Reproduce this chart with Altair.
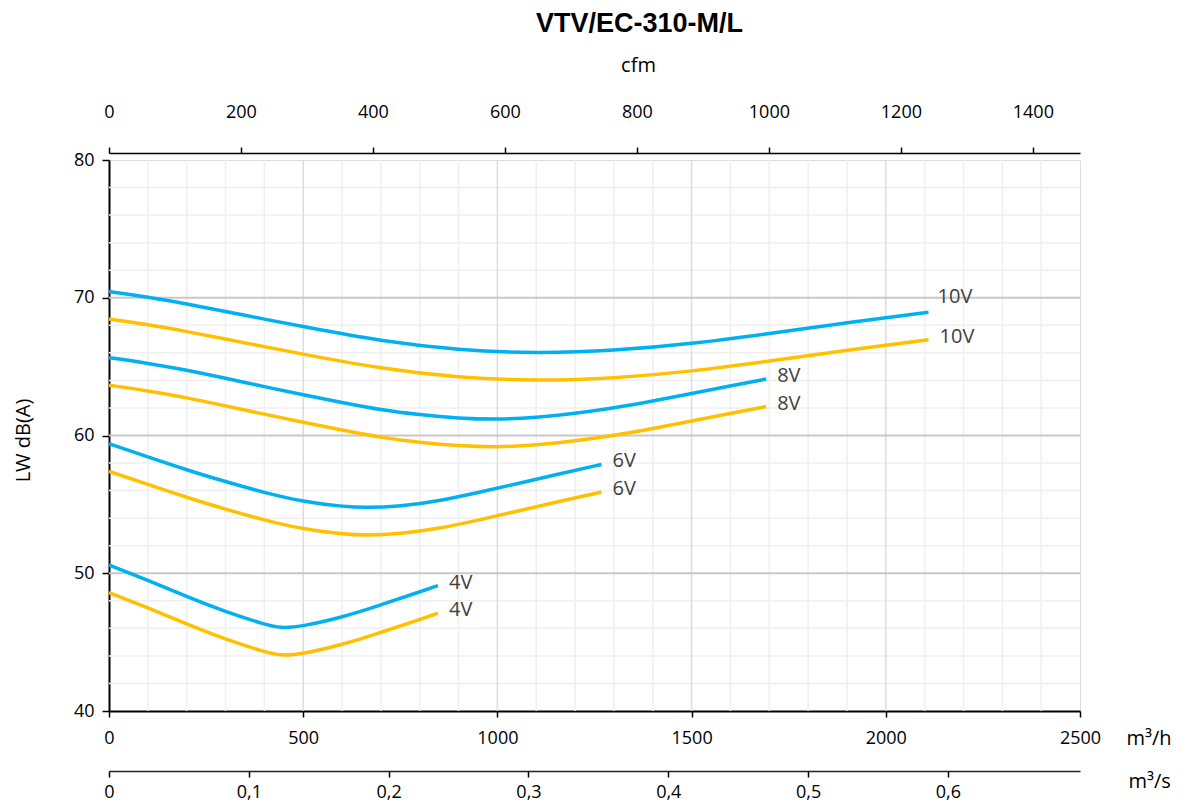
import altair as alt
import pandas as pd

# ---------------- data ----------------
Q_10 = [0, 100, 200, 300, 400, 500, 700, 900, 1100, 1300, 1500, 1700, 1900, 2110]
blue_10 = [70.45, 70.05, 69.55, 69.0, 68.45, 67.9, 66.85, 66.2, 65.95, 66.15, 66.65, 67.4, 68.2, 68.95]
yellow_10 = [68.45, 68.05, 67.55, 67.0, 66.45, 65.9, 64.85, 64.2, 63.95, 64.15, 64.65, 65.4, 66.2, 66.95]

Q_8 = [0, 100, 200, 300, 400, 500, 600, 700, 800, 900, 1000, 1100, 1200, 1300, 1400, 1500, 1600, 1692]
blue_8 = [65.65, 65.25, 64.75, 64.15, 63.55, 62.95, 62.4, 61.85, 61.5, 61.25, 61.15, 61.3, 61.6, 62.0, 62.5, 63.05, 63.6, 64.1]
yellow_8 = [63.65, 63.25, 62.75, 62.15, 61.55, 60.95, 60.4, 59.85, 59.5, 59.25, 59.15, 59.3, 59.6, 60.0, 60.5, 61.05, 61.6, 62.1]

Q_6 = [0, 100, 200, 300, 400, 500, 600, 660, 750, 850, 950, 1050, 1150, 1268]
blue_6 = [59.4, 58.45, 57.5, 56.65, 55.85, 55.2, 54.85, 54.75, 54.85, 55.25, 55.85, 56.5, 57.15, 57.9]
yellow_6 = [57.4, 56.45, 55.5, 54.65, 53.85, 53.2, 52.85, 52.75, 52.85, 53.25, 53.85, 54.5, 55.15, 55.9]

Q_4 = [0, 100, 200, 300, 400, 440, 500, 600, 700, 800, 847]
blue_4 = [50.6, 49.5, 48.3, 47.2, 46.3, 46.0, 46.15, 46.8, 47.7, 48.65, 49.1]
yellow_4 = [48.6, 47.5, 46.3, 45.2, 44.3, 44.0, 44.15, 44.8, 45.7, 46.65, 47.1]

curve_names = ["10V", "10V", "8V", "8V", "6V", "6V", "4V", "4V"]
curve_kinds = ["blue", "yellow", "blue", "yellow", "blue", "yellow", "blue", "yellow"]
curve_q = [Q_10, Q_10, Q_8, Q_8, Q_6, Q_6, Q_4, Q_4]
curve_db = [blue_10, yellow_10, blue_8, yellow_8, blue_6, yellow_6, blue_4, yellow_4]

x_ticks_m3h = [0, 500, 1000, 1500, 2000, 2500]
x_ticks_cfm = [0, 200, 400, 600, 800, 1000, 1200, 1400]
x_ticks_m3s = [0, 0.1, 0.2, 0.3, 0.4, 0.5, 0.6]
y_ticks = [40, 50, 60, 70, 80]

M3H_PER_CFM = 1.699
Q_MAX = 2500

# ---------------- tables ----------------
rows = []
for name, kind, qs, dbs in zip(curve_names, curve_kinds, curve_q, curve_db):
    for q, d in zip(qs, dbs):
        rows.append({"series": f"{name} {kind}", "volt": name, "kind": kind, "Q": q, "dB": d})
df = pd.DataFrame(rows)
labels_df = df.groupby("series", sort=False).tail(1).reset_index(drop=True)

minor_x = pd.DataFrame({"Q": [q for q in range(100, Q_MAX, 100) if q % 500]})
major_x = pd.DataFrame({"Q": [q for q in range(500, Q_MAX, 500)]})
minor_y = pd.DataFrame({"dB": [v for v in range(42, 80, 2) if v % 10]})
major_y = pd.DataFrame({"dB": [50, 60, 70]})

W, H = 971, 551
FONT = "Open Sans"

x_scale = alt.Scale(domain=[0, Q_MAX], nice=False, zero=False)
y_scale = alt.Scale(domain=[40, 80], nice=False, zero=False)

x_axis = alt.Axis(
    orient="bottom", values=x_ticks_m3h, format="d", grid=False,
    tickSize=6, tickColor="black", tickWidth=1.5,
    domainColor="black", domainWidth=2,
    labelFont=FONT, labelFontSize=18, labelColor="black", labelPadding=12, labelFlush=False,
    title="m³/h", titleFont=FONT, titleFontSize=20, titleFontWeight="normal", titleColor="black",
    titleAngle=0, titleAlign="left", titleBaseline="middle", titleX=1017, titleY=27,
)
y_axis = alt.Axis(
    orient="left", values=y_ticks, format="d", grid=False,
    tickSize=7, tickColor="black", tickWidth=1.5,
    domainColor="black", domainWidth=2,
    labelFont=FONT, labelFontSize=18, labelColor="black", labelPadding=8,
    title="LW dB(A)", titleFont=FONT, titleFontSize=20, titleFontWeight="normal", titleColor="black",
    titleAngle=-90, titleAlign="center", titleBaseline="middle", titleX=-86, titleY=280,
)

X = alt.X("Q:Q", scale=x_scale, axis=x_axis)
Y = alt.Y("dB:Q", scale=y_scale, axis=y_axis)

grid_minor_v = alt.Chart(minor_x).mark_rule(color="#efefef", strokeWidth=1.5).encode(x=X)
grid_major_v = alt.Chart(major_x).mark_rule(color="#dedbdb", strokeWidth=1.5).encode(x=X)
grid_minor_h = alt.Chart(minor_y).mark_rule(color="#efefef", strokeWidth=1.5).encode(y=Y)
grid_major_h = alt.Chart(major_y).mark_rule(color="#c8c8c8", strokeWidth=2).encode(y=Y)

lines = alt.Chart(df).mark_line(strokeWidth=3.5, interpolate="basis").encode(
    x=X, y=Y,
    color=alt.Color("kind:N", scale=alt.Scale(domain=["blue", "yellow"], range=["#00B0F0", "#FFC000"]), legend=None),
    detail="series:N",
)

labels_main = alt.Chart(labels_df).mark_text(
    align="left", baseline="middle", dx=11, dy=-3, font=FONT, fontSize=20, color="#404040"
).encode(x=X, y=Y, text="volt:N").transform_filter("datum.series != '10V blue'")
labels_top = alt.Chart(labels_df).mark_text(
    align="left", baseline="middle", dx=9, dy=-15, font=FONT, fontSize=20, color="#404040"
).encode(x=X, y=Y, text="volt:N").transform_filter("datum.series == '10V blue'")

main = alt.layer(grid_minor_v, grid_minor_h, grid_major_v, grid_major_h, lines, labels_main, labels_top)

cfm_layer = alt.Chart(pd.DataFrame({"cfm": [0, Q_MAX / M3H_PER_CFM]})).mark_point(opacity=0).encode(
    x=alt.X("cfm:Q", scale=alt.Scale(domain=[0, Q_MAX / M3H_PER_CFM], nice=False, zero=False),
            axis=alt.Axis(orient="top", offset=7, values=x_ticks_cfm, format="d", grid=False,
                          tickSize=6, tickColor="black", tickWidth=1.5,
                          domainColor="black", domainWidth=1.5,
                          labelFont=FONT, labelFontSize=18, labelColor="black", labelPadding=26,
                          labelFlush=False,
                          title="cfm", titleFont=FONT, titleFontSize=20, titleFontWeight="normal",
                          titleColor="black", titleAngle=0, titleAlign="center", titleBaseline="middle",
                          titleX=529, titleY=-88))
)

m3s_layer = alt.Chart(pd.DataFrame({"m3s": [0, Q_MAX / 3600]})).mark_point(opacity=0).encode(
    x=alt.X("m3s:Q", scale=alt.Scale(domain=[0, Q_MAX / 3600], nice=False, zero=False),
            axis=alt.Axis(orient="bottom", offset=60, values=x_ticks_m3s, grid=False,
                          labelExpr="datum.value == 0 ? '0' : replace(format(datum.value, '.1f'), '.', ',')",
                          tickSize=6, tickColor="black", tickWidth=1.5,
                          domainColor="#222222", domainWidth=1.5,
                          labelFont=FONT, labelFontSize=18, labelColor="black", labelPadding=6,
                          labelFlush=False,
                          title="m³/s", titleFont=FONT, titleFontSize=20, titleFontWeight="normal",
                          titleColor="black", titleAngle=0, titleAlign="left", titleBaseline="middle",
                          titleX=1019, titleY=10))
)

chart = alt.layer(main, cfm_layer, m3s_layer).resolve_scale(x="independent").properties(
    width=W, height=H,
    autosize=alt.AutoSizeParams(type="none"),
    padding={"left": 101, "top": 152, "right": 100, "bottom": 92},
    title=alt.TitleParams("VTV/EC-310-M/L", font="Liberation Sans", fontSize=27, fontWeight="bold",
                          color="black", anchor="middle", dx=45, offset=17),
).configure_view(stroke="black", strokeWidth=2).configure(background="white")

chart.save("out.html", embed_options={"renderer": "svg", "actions": False})
